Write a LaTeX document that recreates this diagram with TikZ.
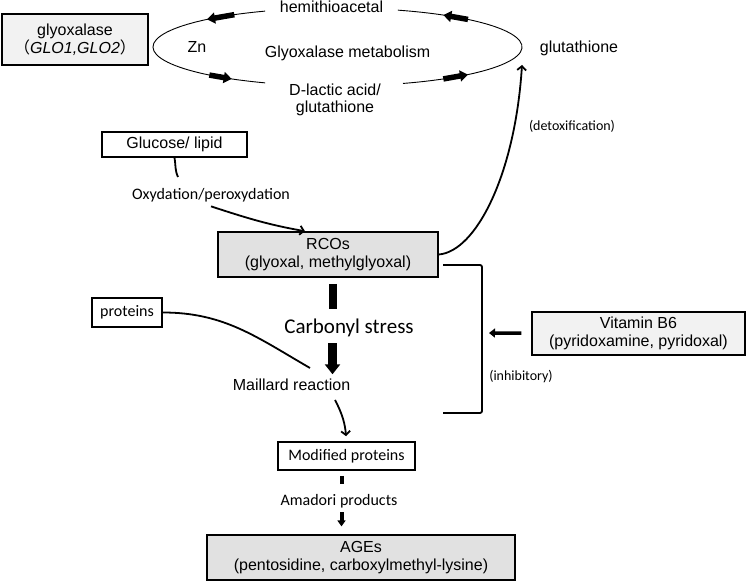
\documentclass[tikz,border=0pt]{standalone}
\usepackage{fontspec}
\setmainfont{Liberation Sans}
\newfontfamily\calib{Carlito}
\newfontfamily\cjk{Noto Sans CJK SC}
\usetikzlibrary{arrows.meta}
\definecolor{lightbox}{HTML}{F2F2F2}
\definecolor{darkbox}{HTML}{E1E1E1}

\begin{document}
\begin{tikzpicture}[x=1pt,y=1pt,>={Straight Barb[length=4pt,width=9pt]},
  line width=1.6pt,
  box/.style={draw,line width=1.6pt,inner sep=0pt,align=center,font=\fontsize{16}{18}\selectfont},
  txt/.style={anchor=base,inner sep=3pt,font=\fontsize{16}{18}\selectfont},
  ctxt/.style={anchor=base,inner sep=3pt,font=\calib\fontsize{16}{18}\selectfont},
  smalltxt/.style={anchor=base,inner sep=3pt,font=\calib\fontsize{14}{16}\selectfont},
  conn/.style={line width=1.8pt},
  blk/.style={line width=5.5pt,-{Triangle[length=8pt,width=11pt]}},
  thickbar/.style={line width=8pt}]

  \useasboundingbox (0,0) rectangle (750,583);

  % glyoxalase cycle
  \coordinate (elc) at (337.5,536);
  \draw[line width=0.9pt] (elc) ++(113.1:184.5 and 39) arc[start angle=113.1,end angle=246.9,x radius=184.5,y radius=39];
  \draw[line width=0.9pt] (elc) ++(-69.2:184.5 and 39) arc[start angle=-69.2,end angle=70.9,x radius=184.5,y radius=39];
  \draw[blk] ([shift={(124:184.5 and 39)}]elc) -- ([shift={(135:184.5 and 39)}]elc);
  \draw[blk] ([shift={(45:184.5 and 39)}]elc) -- ([shift={(55:184.5 and 39)}]elc);
  \draw[blk] ([shift={(226:184.5 and 39)}]elc) -- ([shift={(235:184.5 and 39)}]elc);
  \draw[blk] ([shift={(305:184.5 and 39)}]elc) -- ([shift={(315:184.5 and 39)}]elc);

  \node[txt] (hemi) at (331.5,570.3) {hemithioacetal};
  \node[txt] (zn) at (197,530) {Zn};
  \node[txt] (meta) at (347.5,525.5) {Glyoxalase metabolism};
  \node[align=center,inner sep=3pt,font=\fontsize{16}{17}\selectfont] (dlac) at (335,483.3) {D-lactic acid/\\glutathione};
  \node[txt] (glut) at (579,530) {glutathione};
  \node[box,fill=lightbox,minimum width=146pt,minimum height=51pt] (glyo) at (75,543.5)
    {glyoxalase\\{\cjk （}\textit{GLO1,GLO2}{\cjk ）}};

  % main pathway
  \node[box,minimum width=145pt,minimum height=25pt] (gluc) at (174.5,438.5) {Glucose/ lipid};
  \node[ctxt] (oxy) at (211,383) {Oxydation/peroxydation};
  \node[box,fill=darkbox,minimum width=220pt,minimum height=45pt] (rco) at (328,328.5)
    {RCOs\\(glyoxal, methylglyoxal)};
  \node[smalltxt] (detox) at (572,452) {(detoxification)};
  \node[box,fill=lightbox,line width=1.2pt,minimum width=213pt,minimum height=43pt] (vit) at (638.5,249.5)
    {Vitamin B6\\(pyridoxamine, pyridoxal)};
  \node[smalltxt] (inhib) at (521,202) {(inhibitory)};
  \node[ctxt,font=\calib\fontsize{21}{24}\selectfont] (carb) at (349,249) {Carbonyl stress};
  \node[txt] (mail) at (291.5,192) {Maillard reaction};
  \node[box,font=\calib\fontsize{16}{18}\selectfont,minimum width=70pt,minimum height=29pt] (prot) at (127,270.5) {proteins};
  \node[box,font=\calib\fontsize{16}{18}\selectfont,minimum width=137pt,minimum height=28pt] (mod) at (346.5,127) {Modified proteins};
  \node[ctxt] (amad) at (339,77) {Amadori products};
  \node[box,fill=darkbox,line width=1.2pt,minimum width=308pt,minimum height=45pt] (ages) at (361,25.5)
    {AGEs\\(pentosidine, carboxylmethyl-lysine)};

  \coordinate (oxin) at (178,406);
  \coordinate (glin) at (522,518);
  \coordinate (brt) at (443,318);
  \coordinate (brb) at (443,170);
  \coordinate (brm) at (482,250);
  \coordinate (mlin) at (310,215);
  \coordinate (mlout) at (335,183);
  \coordinate (mx) at (332.5,0);
  \coordinate (my) at (341.5,0);

  \draw[conn] (gluc.south) to[out=-80,in=115] (oxin);
  \draw[conn,->] (oxy.south) to[out=-18,in=170] ([xshift=-23pt]rco.north);
  \draw[conn,->] (rco.east) .. controls +(37,3) and +(-7,-110) .. (glin);
  \draw[conn,rounded corners=2pt] (brt) -- (brt -| brm) -- (brb -| brm) -- (brb);
  \draw[line width=3.5pt,-{Triangle[length=6pt,width=9pt]},shorten <=10pt,shorten >=7pt] (vit) -- (brm);

  \draw[thickbar,shorten <=6pt,shorten >=6.3pt] (rco.south -| mx) -- (carb.north -| mx);
  \draw[line width=9pt,-{Triangle[length=10pt,width=15pt]},shorten <=2pt,shorten >=1.3pt] (carb.south -| mx) -- (mail.north -| mx);
  \draw[conn] (prot.east) to[out=0,in=150] (mlin);
  \draw[conn,->,shorten >=5pt] (mlout) to[out=-62,in=95] (mod.north);
  \draw[line width=4pt,shorten <=5pt,shorten >=6.8pt] (mod.south -| my) -- (amad.north -| my);
  \draw[line width=4pt,-{Triangle[length=6pt,width=8pt]},shorten >=8pt] (amad.south -| my) -- (ages.north -| my);
\end{tikzpicture}
\end{document}
